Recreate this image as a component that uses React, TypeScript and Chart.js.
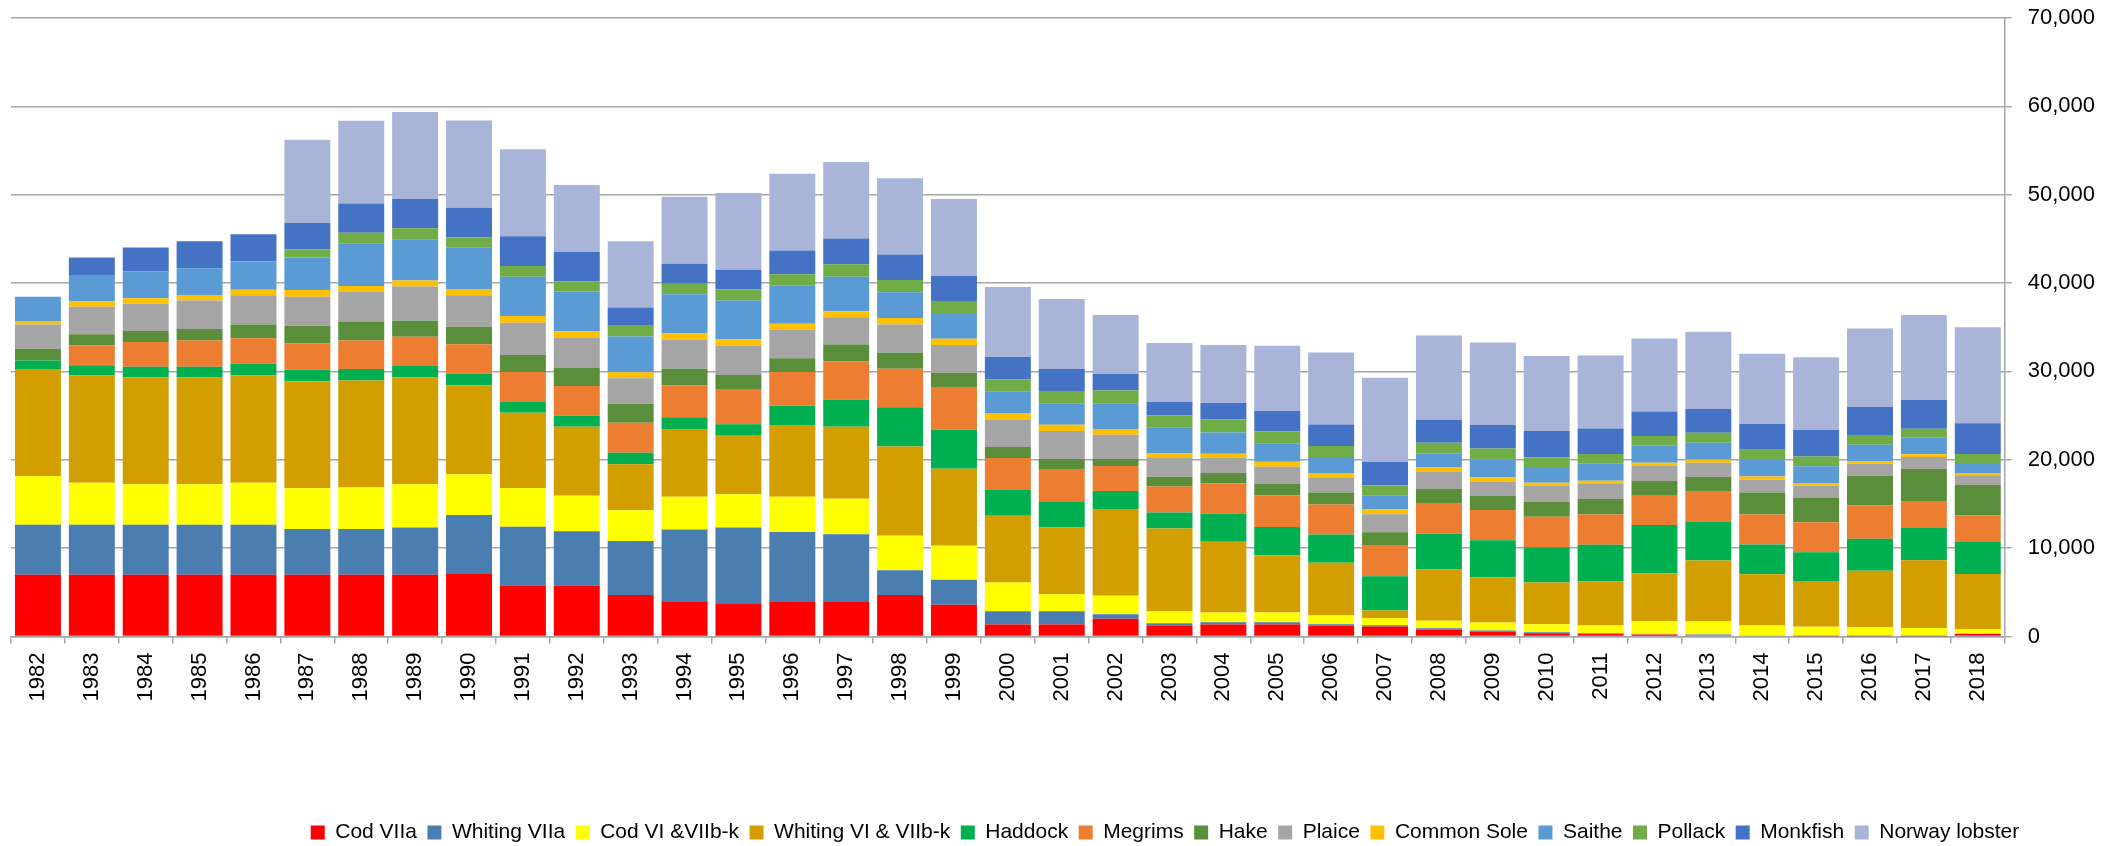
import { useEffect, useRef } from 'react';
import { Chart, registerables } from 'chart.js';

Chart.register(...registerables);

const years = ['1982','1983','1984','1985','1986','1987','1988','1989','1990','1991','1992','1993','1994','1995','1996','1997','1998','1999','2000','2001','2002','2003','2004','2005','2006','2007','2008','2009','2010','2011','2012','2013','2014','2015','2016','2017','2018'];

const codVIIa = [7000,7000,7000,7000,7000,7000,7000,7000,7086,5786,5786,4696,3983,3774,3983,3983,4696,3585,1359,1359,2000,1245,1359,1359,1208,1132,755,528,377,302,226,113,75,40,30,30,302];
const whitingVIIa = [5660,5660,5660,5660,5660,5157,5157,5325,6667,6625,6122,6122,8134,8554,7841,7589,2809,2830,1510,1510,528,264,264,264,189,151,189,151,113,75,38,113,38,20,20,20,20];
const codVI = [5493,4738,4570,4570,4738,4612,4696,4906,4612,4403,4025,3480,3690,3774,3983,4025,3899,3849,3246,1925,2076,1321,1094,1094,981,793,830,906,906,868,1472,1472,1132,1057,1019,906,491];
const whitingVI = [12118,12160,12076,12076,12160,12118,12118,12076,10063,8512,7799,5199,7673,6625,8134,8134,10105,8718,7548,7548,9812,9397,8001,6454,5963,868,5812,5095,4718,4982,5435,6906,5812,5170,6378,7661,6265];
const haddock = [964,1132,1216,1216,1300,1300,1300,1300,1342,1216,1258,1300,1342,1300,2180,3103,4445,4416,2906,2868,2038,1812,3170,3208,3208,3887,4038,4227,4000,4151,5435,4416,3359,3246,3623,3661,3623];
const megrims = [null,2264,2809,2977,2893,2977,3229,3312,3312,3396,3354,3396,3606,3983,3816,4319,4361,4755,3623,3661,2830,2944,3434,3585,3397,3434,3397,3397,3434,3434,3321,3359,3397,3397,3774,2981,2981];
const hake = [1342,1258,1258,1300,1551,2013,2138,1803,1971,1929,2055,2138,1887,1593,1551,1887,1803,1661,1245,1208,793,1094,1170,1283,1359,1547,1661,1585,1661,1736,1661,1661,2491,2793,3359,3699,3472];
const plaice = [2725,3103,3061,3229,3312,3271,3354,3899,3564,3648,3396,2893,3271,3312,3229,3103,3187,3170,3132,3170,2755,2113,1736,1962,1623,2038,1925,1661,1812,1698,1698,1623,1472,1359,1359,1359,1094];
const commonSole = [335,587,629,629,629,755,671,671,713,755,755,671,713,713,671,671,755,717,717,717,642,528,453,566,566,528,528,453,377,377,377,377,340,302,302,302,264];
const saithe = [2809,3019,3061,3019,3229,3690,4780,4654,4654,4445,4487,4067,4445,4403,4361,3899,2893,2793,2415,2378,2868,2906,2415,2038,1812,1547,1547,2038,1774,1925,1925,1887,1887,1887,1849,1887,1132];
const pollack = [null,null,null,null,null,922,1258,1258,1174,1216,1174,1216,1174,1258,1258,1426,1384,1472,1396,1434,1510,1396,1472,1396,1245,1170,1245,1245,1094,1094,1094,1132,1132,1094,1094,1019,1019];
const monkfish = [null,1971,2684,3061,3061,2977,3312,3312,3354,3354,3312,2055,2264,2222,2684,2893,2893,2830,2529,2491,1849,1510,1849,2302,2453,2642,2604,2642,2981,2906,2793,2680,2906,3019,3170,3246,3472];
const norwayLobster = [null,null,null,null,null,9434,9350,9853,9895,9853,7589,7505,7589,8680,8680,8680,8638,8723,7925,7925,6680,6680,6567,7397,8152,9548,9548,9360,8492,8265,8265,8756,7963,8227,8869,9624,10869];

const seriesNames = ['Cod VIIa','Whiting VIIa','Cod VI &VIIb-k','Whiting VI & VIIb-k','Haddock','Megrims','Hake','Plaice','Common Sole','Saithe','Pollack','Monkfish','Norway lobster'];
const seriesData = [codVIIa, whitingVIIa, codVI, whitingVI, haddock, megrims, hake, plaice, commonSole, saithe, pollack, monkfish, norwayLobster];
const seriesColors = ['#FF0000','#4A7EB0','#FFFF00','#D39E00','#00B050','#ED7D31','#5B8E3A','#A5A5A5','#FFC000','#5B9BD5','#70AD47','#4472C4','#A8B5D9'];

const FONT = "'Liberation Sans', Arial, sans-serif";
const W = 2119;
const H = 846;
const LEGEND_SHIFT_X = 104;
const LEGEND_SHIFT_Y = 7;

const legendShift = {
  id: 'legendShift',
  afterLayout(chart: any) {
    const lg = chart.legend;
    if (!lg) return;
    lg.left += LEGEND_SHIFT_X;
    lg.right += LEGEND_SHIFT_X;
    lg.top += LEGEND_SHIFT_Y;
    lg.bottom += LEGEND_SHIFT_Y;
  },
};

export default function App() {
  const ref = useRef<HTMLCanvasElement>(null);

  useEffect(() => {
    const chart = new Chart(ref.current as HTMLCanvasElement, {
      type: 'bar',
      data: {
        labels: years,
        datasets: seriesNames.map((name, i) => ({
          label: name,
          data: seriesData[i] as any,
          backgroundColor: seriesColors[i],
          borderWidth: 0,
          categoryPercentage: 1,
          barPercentage: 0.853,
        })),
      },
      plugins: [legendShift],
      options: {
        responsive: false,
        animation: false,
        layout: { autoPadding: false, padding: { left: 11, right: 8, top: 18, bottom: 0 } },
        plugins: {
          legend: {
            position: 'bottom',
            labels: {
              boxWidth: 14,
              boxHeight: 14,
              padding: 10.5,
              color: '#000',
              font: { size: 21, family: FONT },
            },
          },
          tooltip: { enabled: false },
        },
        scales: {
          x: {
            stacked: true,
            grid: { drawOnChartArea: false, color: '#A6A6A6', tickLength: 7, lineWidth: 1.5 },
            border: { display: true, color: '#A6A6A6', width: 1.5 },
            ticks: {
              minRotation: 90,
              maxRotation: 90,
              autoSkip: false,
              padding: 9,
              color: '#000',
              font: { size: 22, family: FONT },
            },
            afterFit: (s: any) => { s.height = 168; },
          },
          y: {
            stacked: true,
            position: 'right',
            min: 0,
            max: 70000,
            grid: { color: '#A6A6A6', lineWidth: 1.5, tickLength: 7 },
            border: { display: true, color: '#A6A6A6', width: 1.5 },
            ticks: {
              stepSize: 10000,
              padding: 16,
              color: '#000',
              font: { size: 22, family: FONT, lineHeight: 1 },
              callback: (v: any) => Number(v).toLocaleString('en-US'),
            },
            afterFit: (s: any) => { s.paddingTop = 0; s.paddingBottom = 0; },
          },
        },
      },
    });
    return () => chart.destroy();
  }, []);

  return (
    <div style={{ position: 'fixed', left: 0, top: 0, width: W, height: H, background: '#fff' }}>
      <canvas ref={ref} width={W} height={H} style={{ display: 'block', width: W, height: H }} />
    </div>
  );
}
